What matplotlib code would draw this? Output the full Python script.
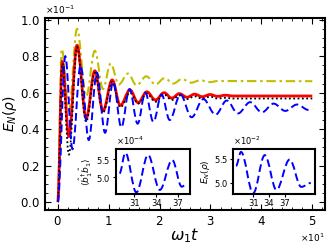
import numpy as np
import matplotlib
matplotlib.use('Agg')
import matplotlib.pyplot as plt
from matplotlib.path import Path
from matplotlib.patches import PathPatch
from matplotlib.ticker import AutoMinorLocator

# extrema of each curve (t, E_N in units of 1e-1)
t_red = [0, 0.9, 2.2, 3.8, 5.6, 7.3, 8.9, 10.7, 12.3, 14.2, 15.8, 17.5, 19.2, 20.9, 22.4,
         23.9, 25.4, 26.9, 28.4, 29.9, 31.4, 32.9, 34.5, 50]
e_red = [0, 0.77, 0.36, 0.86, 0.46, 0.72, 0.50, 0.67, 0.53, 0.615, 0.545, 0.605, 0.56, 0.60, 0.57,
         0.595, 0.575, 0.592, 0.578, 0.59, 0.58, 0.586, 0.582, 0.582]

t_blk = t_red
e_blk = [0, 0.76, 0.26, 0.85, 0.44, 0.71, 0.49, 0.66, 0.52, 0.60, 0.54, 0.595, 0.55, 0.59, 0.56,
         0.585, 0.565, 0.58, 0.567, 0.578, 0.568, 0.572, 0.568, 0.568]

t_yel = [0, 0.8, 2.2, 3.8, 5.6, 7.3, 8.9, 10.4, 12.0, 13.8, 15.5, 17.4, 19.2, 21.0, 22.7,
         24.4, 26.2, 28.0, 29.8, 31.5, 50]
e_yel = [0, 0.84, 0.50, 0.95, 0.58, 0.83, 0.62, 0.76, 0.645, 0.705, 0.64, 0.69, 0.645, 0.68, 0.65,
         0.675, 0.655, 0.668, 0.658, 0.664, 0.663]

t_blu = [0, 1.5, 2.9, 4.5, 6.1, 7.7, 9.3, 10.9, 12.5, 14.1, 15.7, 17.2, 18.8, 20.4, 22.0, 24.1,
         26.3, 28.6, 31.0, 33.2, 35.4, 37.8, 40.1, 42.4, 44.7, 47.0, 49.3, 50]
e_blu = [0, 0.80, 0.29, 0.75, 0.34, 0.71, 0.38, 0.66, 0.41, 0.62, 0.43, 0.60, 0.44, 0.59, 0.45, 0.59,
         0.465, 0.565, 0.479, 0.557, 0.486, 0.548, 0.492, 0.54, 0.50, 0.535, 0.505, 0.51]

# insets
t_in1 = [29.0, 29.8, 31.3, 32.9, 34.5, 36.2, 37.5, 38.1]
n_in1 = [5.11, 5.68, 4.58, 5.62, 4.65, 5.48, 4.74, 4.80]  # 1e-4
t_in2 = [27.75, 28.7, 31.0, 33.2, 35.4, 37.9, 40.1, 41.9]
e_in2 = [5.35, 5.635, 4.79, 5.57, 4.86, 5.48, 4.92, 5.0]  # 1e-2

DASH = (0, (4, 2))
DASHDOT = (0, (4.5, 1.8, 1.2, 1.8))
DOT = (0, (1, 1.4))


def wave(ax, t, y, scale, **kw):
    """ smooth curve through the extrema (horizontal tangents) """
    verts = [(t[0], y[0] * scale)]
    codes = [Path.MOVETO]
    for i in range(1, len(t)):
        dt = t[i] - t[i - 1]
        verts += [(t[i - 1] + 0.36 * dt, y[i - 1] * scale),
                  (t[i] - 0.36 * dt, y[i] * scale),
                  (t[i], y[i] * scale)]
        codes += [Path.CURVE4] * 3
    ax.add_patch(PathPatch(Path(verts, codes), fill=False, **kw))


fig = plt.figure(figsize=(3.33, 2.5), dpi=100)
ax = fig.add_axes([0.135, 0.16, 0.841, 0.768])

wave(ax, t_yel, e_yel, 0.1, edgecolor='y', lw=1.5, linestyle=DASHDOT)
wave(ax, t_red, e_red, 0.1, edgecolor='r', lw=2.0)
wave(ax, t_blk, e_blk, 0.1, edgecolor='k', lw=1.3, linestyle=DOT)
wave(ax, t_blu, e_blu, 0.1, edgecolor='b', lw=1.4, linestyle=DASH)

ax.set_xlim(-2.5, 52.5)
ax.set_ylim(-0.0044, 0.101)
ax.set_xticks([0, 10, 20, 30, 40, 50])
ax.set_yticks([0, 0.02, 0.04, 0.06, 0.08, 0.1])
ax.xaxis.set_minor_locator(AutoMinorLocator(5))
ax.yaxis.set_minor_locator(AutoMinorLocator(4))
ax.ticklabel_format(style='sci', scilimits=(0, 0), useMathText=True)
ax.tick_params(which='both', direction='in', top=True, right=True, labelsize=8.5)
ax.tick_params(which='major', length=4)
ax.tick_params(which='minor', length=2)
ax.xaxis.get_offset_text().set_fontsize(6.5)
ax.yaxis.get_offset_text().set_fontsize(6.5)
for s in ax.spines.values():
    s.set_linewidth(1.5)
ax.set_xlabel(r'$\omega_1 t$', fontsize=11.5, labelpad=-1)
ax.set_ylabel(r'$E_N(\rho)$', fontsize=10, labelpad=1)

# inset 1
ax1 = fig.add_axes([0.347, 0.223, 0.223, 0.18])
wave(ax1, t_in1, n_in1, 1e-4, edgecolor='b', lw=1.4, linestyle=DASH)
ax1.set_xlim(28.46, 38.6)
ax1.set_ylim(4.53e-4, 5.78e-4)
ax1.set_xticks([31, 34, 37])
ax1.set_yticks([5.0e-4, 5.5e-4])
ax1.ticklabel_format(axis='y', style='sci', scilimits=(0, 0), useMathText=True)
ax1.set_ylabel(r'$\langle\hat{b}_1^{\dagger}\hat{b}_1\rangle$', fontsize=6.5, labelpad=1)

# inset 2
ax2 = fig.add_axes([0.70, 0.223, 0.246, 0.18])
wave(ax2, t_in2, e_in2, 1e-2, edgecolor='b', lw=1.4, linestyle=DASH)
ax2.set_xlim(27.2, 42.7)
ax2.set_ylim(4.77e-2, 5.69e-2)
ax2.set_xticks([31, 34, 37])
ax2.set_yticks([5.0e-2, 5.5e-2])
ax2.ticklabel_format(axis='y', style='sci', scilimits=(0, 0), useMathText=True)
ax2.set_ylabel(r'$E_N(\rho)$', fontsize=6.5, labelpad=1)

for a in (ax1, ax2):
    a.tick_params(labelsize=6, length=2, pad=1.5)
    a.yaxis.get_offset_text().set_fontsize(6)
    for s in a.spines.values():
        s.set_linewidth(1.5)

fig.savefig('out.png', dpi=100)
